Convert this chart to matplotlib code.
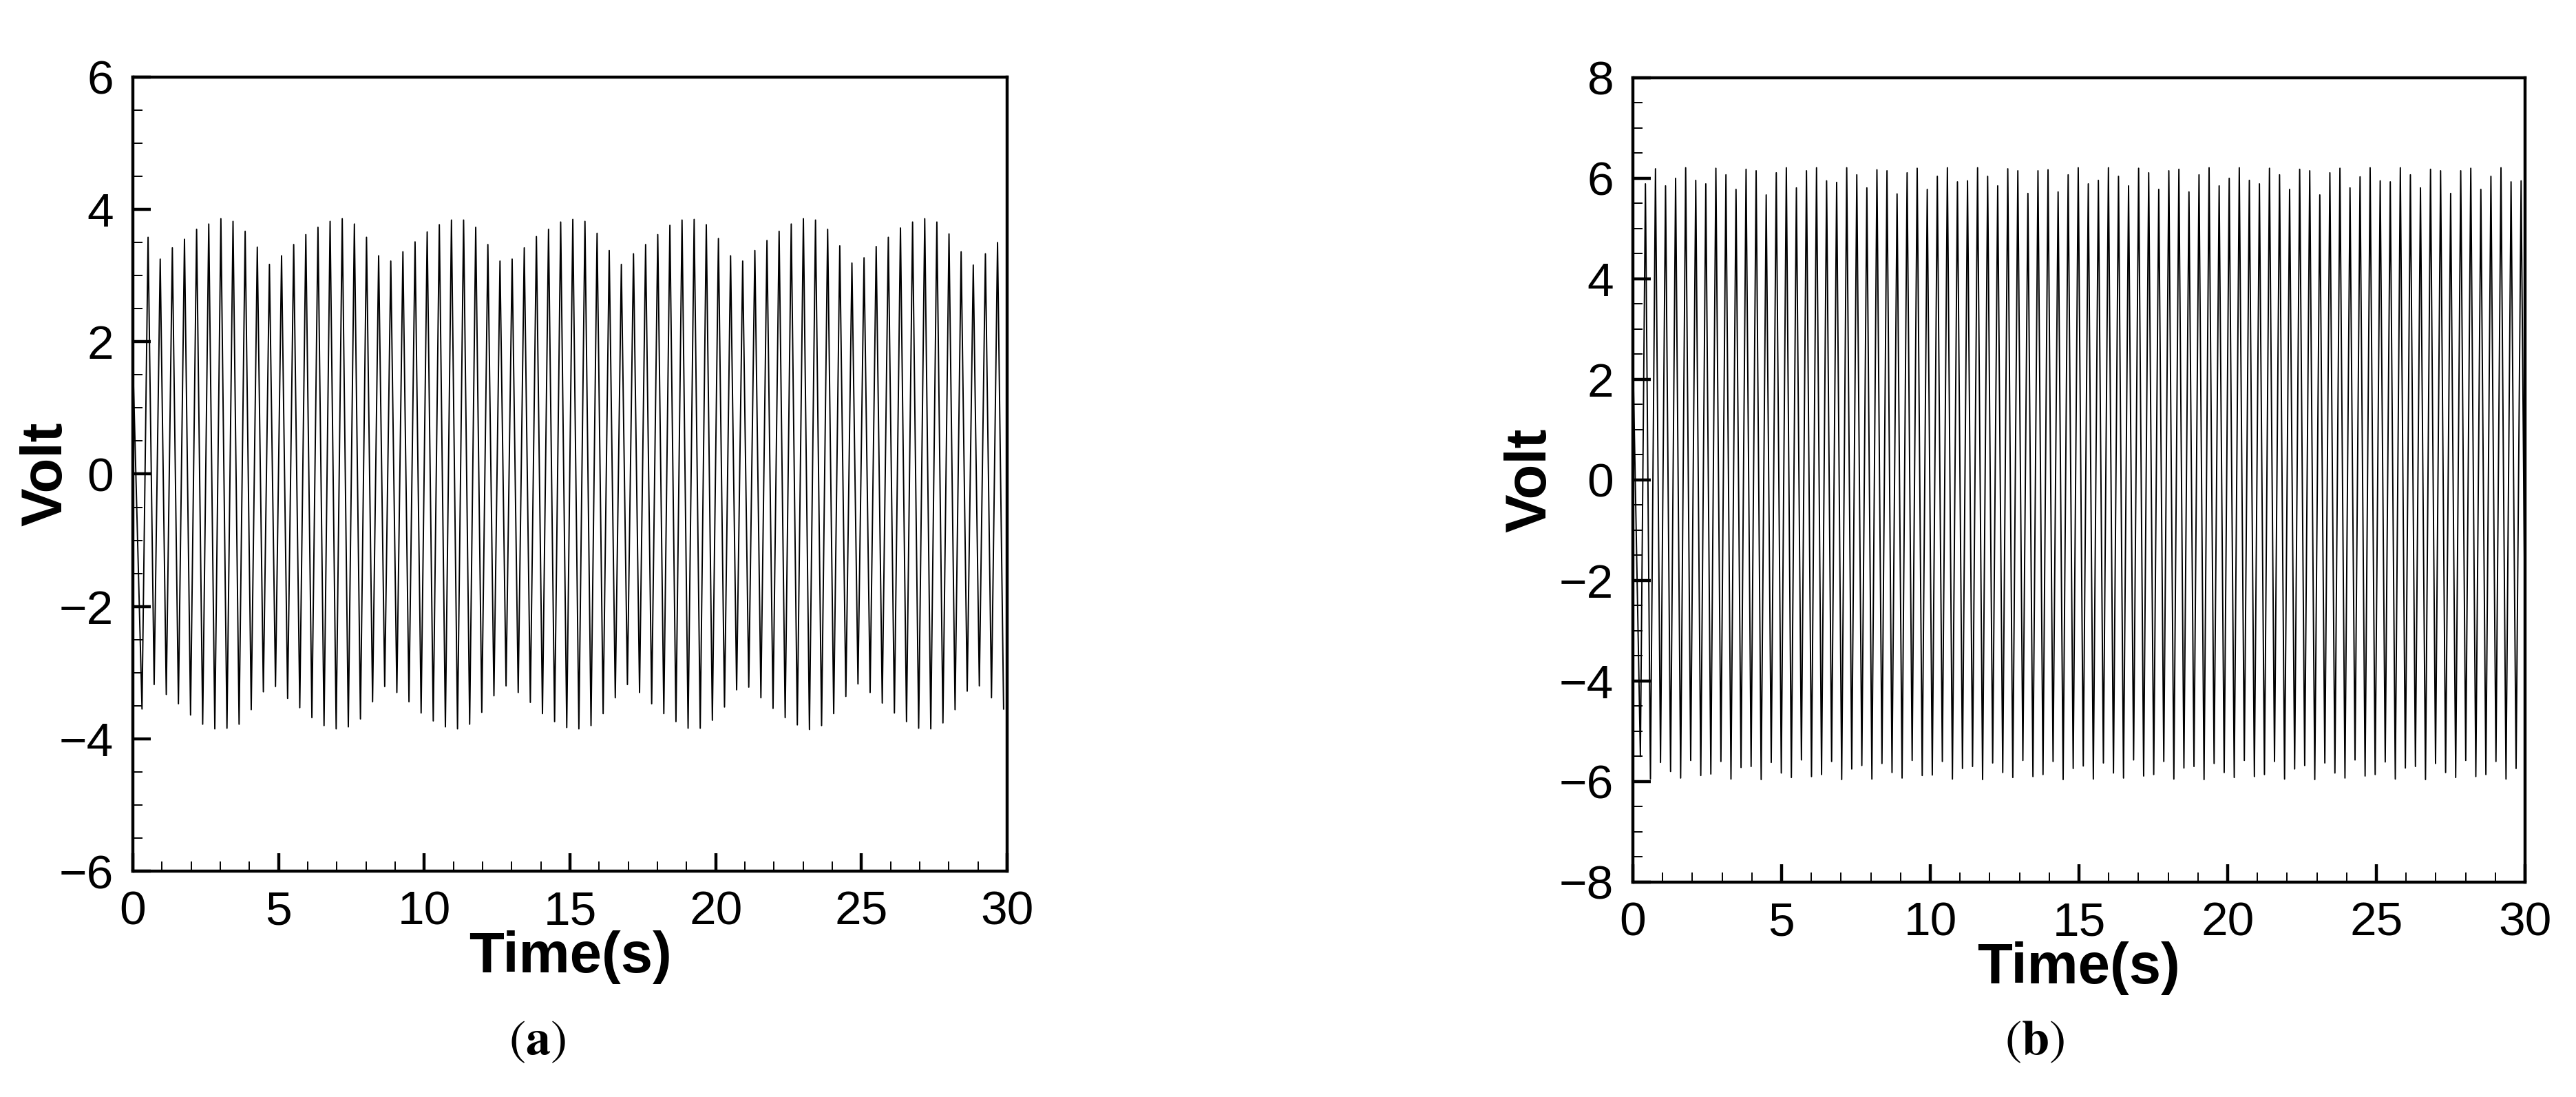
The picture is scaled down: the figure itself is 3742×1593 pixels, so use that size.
import numpy as np
import matplotlib
matplotlib.use("Agg")
import matplotlib.pyplot as plt
from matplotlib.ticker import MultipleLocator

plt.rcParams["font.family"] = ["Liberation Sans", "DejaVu Sans"]
plt.rcParams["mathtext.fontset"] = "stix"

# ---- panel (a): per-cycle peak / trough voltages ----
A_T0 = 0.52        # time of first positive peak (s)
A_PERIOD = 0.4164  # cycle length (s)
A_START = 1.7      # value at t = 0
A_PEAKS = [3.58, 3.25, 3.42, 3.55, 3.70, 3.78, 3.86, 3.82, 3.67, 3.43,
           3.17, 3.30, 3.47, 3.62, 3.73, 3.82, 3.86, 3.78, 3.58, 3.30,
           3.22, 3.36, 3.51, 3.66, 3.77, 3.84, 3.84, 3.73, 3.47, 3.22,
           3.25, 3.42, 3.59, 3.70, 3.81, 3.85, 3.82, 3.64, 3.38, 3.17,
           3.33, 3.47, 3.62, 3.76, 3.84, 3.85, 3.77, 3.56, 3.30, 3.22,
           3.38, 3.53, 3.67, 3.78, 3.86, 3.84, 3.70, 3.45, 3.19, 3.27,
           3.44, 3.58, 3.72, 3.81, 3.86, 3.81, 3.63, 3.36, 3.16, 3.33,
           3.50]
A_TROUGHS = [-3.55, -3.18, -3.33, -3.47, -3.64, -3.78, -3.85, -3.84, -3.78, -3.56,
             -3.29, -3.21, -3.39, -3.53, -3.68, -3.80, -3.85, -3.82, -3.70, -3.44,
             -3.21, -3.30, -3.44, -3.61, -3.73, -3.82, -3.85, -3.78, -3.60, -3.35,
             -3.20, -3.30, -3.45, -3.62, -3.74, -3.83, -3.85, -3.80, -3.62, -3.38,
             -3.18, -3.30, -3.47, -3.62, -3.74, -3.84, -3.84, -3.72, -3.52, -3.26,
             -3.22, -3.38, -3.54, -3.68, -3.79, -3.86, -3.80, -3.62, -3.36, -3.17,
             -3.30, -3.46, -3.61, -3.74, -3.84, -3.85, -3.76, -3.56, -3.28, -3.20,
             -3.38, -3.55]

# ---- panel (b) ----
B_T0 = 0.42
B_PERIOD = 0.3385
B_START = 2.5
B_PEAKS = [5.89, 6.19, 5.85, 6.00, 6.21, 5.96, 5.89, 6.20, 6.07, 5.78,
           6.18, 6.15, 5.67, 6.11, 6.21, 5.81, 6.15, 6.21, 5.95, 5.92,
           6.21, 6.07, 5.81, 6.17, 6.15, 5.69, 6.11, 6.20, 5.78, 6.04,
           6.21, 5.93, 5.95, 6.21, 6.04, 5.85, 6.19, 6.15, 5.70, 6.15,
           6.17, 5.73, 6.07, 6.21, 5.89, 5.96, 6.21, 6.04, 5.85, 6.20,
           6.11, 5.78, 6.15, 6.18, 5.73, 6.07, 6.21, 5.85, 6.00, 6.21,
           5.96, 5.89, 6.20, 6.07, 5.78, 6.18, 6.15, 5.67, 6.11, 6.20,
           5.81, 6.03, 6.21, 5.95, 5.93, 6.21, 6.07, 5.81, 6.18, 6.15,
           5.70, 6.15, 6.20, 5.78, 6.04, 6.21, 5.93, 5.95]
B_TROUGHS = [-5.50, -5.95, -5.62, -5.80, -5.93, -5.58, -5.88, -5.85, -5.60, -5.95,
             -5.72, -5.70, -5.96, -5.62, -5.83, -5.92, -5.57, -5.90, -5.86, -5.60,
             -5.96, -5.75, -5.68, -5.95, -5.64, -5.82, -5.93, -5.58, -5.88, -5.87,
             -5.60, -5.95, -5.74, -5.70, -5.96, -5.63, -5.82, -5.92, -5.58, -5.90,
             -5.86, -5.60, -5.96, -5.74, -5.69, -5.95, -5.63, -5.83, -5.93, -5.57,
             -5.89, -5.86, -5.60, -5.95, -5.73, -5.70, -5.96, -5.64, -5.82, -5.92,
             -5.58, -5.90, -5.86, -5.60, -5.95, -5.75, -5.68, -5.96, -5.63, -5.83,
             -5.93, -5.57, -5.89, -5.86, -5.61, -5.95, -5.73, -5.70, -5.96, -5.64,
             -5.82, -5.92, -5.58, -5.90, -5.86, -5.60, -5.95, -5.74, -5.69]

A_YTICKS = [-6, -4, -2, 0, 2, 4, 6]
B_YTICKS = [-8, -6, -4, -2, 0, 2, 4, 6, 8]
XTICKS = [0, 5, 10, 15, 20, 25, 30]


def build_trace(t0, period, start, peaks, troughs):
    """Zig-zag through the read extremes: trough before each peak, one after."""
    t = [0.0]
    v = [start]
    for k, p in enumerate(peaks):
        tp = t0 + k * period
        t += [tp - period / 2, tp]
        v += [troughs[k], p]
    t.append(t0 + (len(peaks) - 1) * period + period / 2)
    v.append(troughs[len(peaks)])
    return np.array(t), np.array(v)


def style_axes(ax, ylim, yticks, ylabel_x):
    ax.set_xlim(0, 30)
    ax.set_ylim(*ylim)
    ax.set_xticks(XTICKS)
    ax.set_yticks(yticks)
    ax.xaxis.set_minor_locator(MultipleLocator(1))
    ax.yaxis.set_minor_locator(MultipleLocator(0.5))
    ax.tick_params(which="both", direction="in", top=False, right=False,
                   labelsize=50, pad=20, color="black")
    ax.tick_params(which="major", length=19, width=3.2)
    ax.tick_params(which="minor", length=10, width=1.4)
    for s in ax.spines.values():
        s.set_linewidth(3.2)
    ax.set_xlabel("Time(s)", fontsize=60, fontweight="bold", labelpad=-4)
    ax.set_ylabel("Volt", fontsize=60, fontweight="bold", va="center")
    ax.yaxis.set_label_coords(ylabel_x, 0.5)


fig = plt.figure(figsize=(37.42, 15.93), dpi=100)
ax_a = fig.add_axes([0.0516, 0.2059, 0.3394, 0.7238])
ax_b = fig.add_axes([0.6339, 0.1959, 0.3463, 0.7332])

ta, va = build_trace(A_T0, A_PERIOD, A_START, A_PEAKS, A_TROUGHS)
tb, vb = build_trace(B_T0, B_PERIOD, B_START, B_PEAKS, B_TROUGHS)

ax_a.plot(ta, va, color="black", linewidth=1.4)
ax_b.plot(tb, vb, color="black", linewidth=1.4)

style_axes(ax_a, (-6, 6), A_YTICKS, -0.099)
style_axes(ax_b, (-8, 8), B_YTICKS, -0.115)

fig.text(780 / 3742, 1 - 1515 / 1593, r"($\mathbf{a}$)", fontsize=52,
         ha="center", va="center", family="STIXGeneral")
fig.text(2955 / 3742, 1 - 1515 / 1593, r"($\mathbf{b}$)", fontsize=52,
         ha="center", va="center", family="STIXGeneral")

fig.savefig("out.png", dpi=100, facecolor="white")
